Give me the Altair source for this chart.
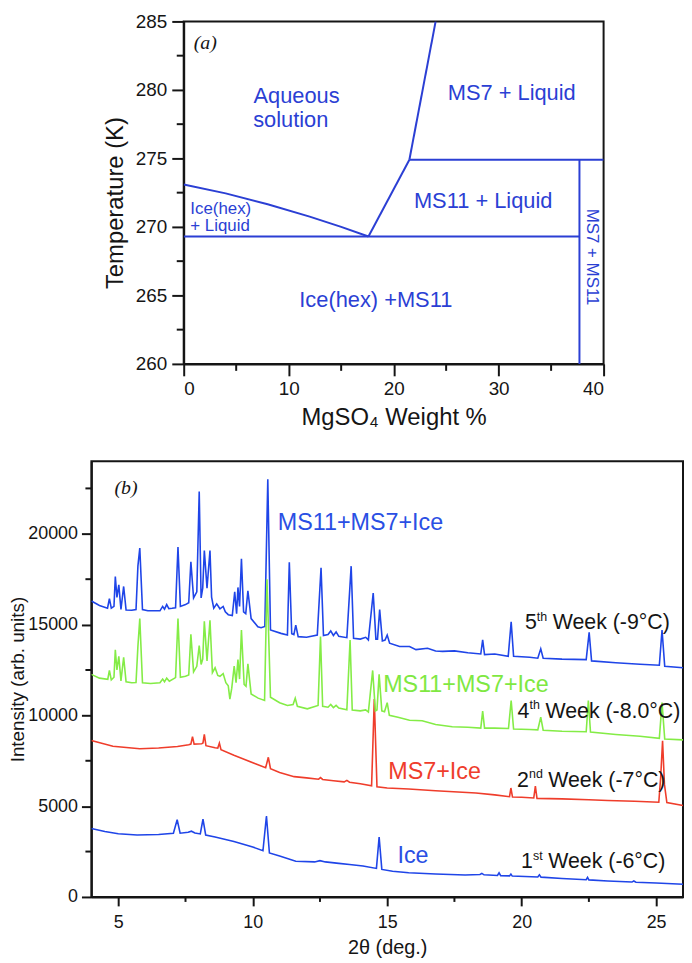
import altair as alt
import pandas as pd

# ---------------- Panel (a): phase diagram ----------------
ice_liq_x = [0, 4, 8, 12, 15, 17.6]
ice_liq_t = [273.1, 272.45, 271.65, 270.75, 270.0, 269.3]
eut_x = [0, 37.7]
eut_t = [269.3, 269.3]
ms11_liq_x = [17.6, 21.5]
ms11_liq_t = [269.3, 274.9]
ms7_liq_x = [21.5, 24.0]
ms7_liq_t = [274.9, 285.0]
peri_x = [21.5, 40.0]
peri_t = [274.9, 274.9]
vert_x = [37.7, 37.7]
vert_t = [260.0, 274.9]

a_big_text = ["Aqueous", "solution", "MS7 + Liquid", "MS11 + Liquid", "Ice(hex) +MS11"]
a_big_x = [10.75, 10.2, 31.25, 28.53, 18.3]
a_big_t = [279.52, 277.77, 279.75, 271.9, 264.66]
a_small_text = ["Ice(hex)", "+ Liquid"]
a_small_x = [0.63, 0.63]
a_small_t = [271.33, 270.04]
a_rot_text = ["MS7 + MS11"]
a_rot_x = [38.87]
a_rot_t = [267.8]

a_x_major = [0, 10, 20, 30, 40]
a_x_minor = [5, 15, 25, 35]
a_y_major = [260, 265, 270, 275, 280, 285]
a_y_minor = [262.5, 267.5, 272.5, 277.5, 282.5]

# ---------------- Panel (b): XRD patterns ----------------
w1_x = [4.0, 4.5, 5.0, 5.7, 6.5, 7.05, 7.19, 7.3, 7.6, 7.72, 7.85, 8.05, 8.15, 8.25, 8.6,
        9.3, 10.0, 10.38, 10.51, 10.62, 11.0, 11.6, 12.3, 12.5, 12.7, 13.2, 13.6, 14.1,
        14.6, 14.70, 14.8, 15.2, 15.8, 16.8, 17.9, 18.45, 18.52, 18.6, 19.1, 19.16, 19.22,
        19.55, 19.6, 19.65, 20.6, 20.66, 20.72, 21.5, 22.4, 22.45, 22.5, 23.2, 24.1, 24.17,
        24.25, 25.0, 26.0]
w1_y = [3775, 3600, 3480, 3413, 3440, 3505, 4250, 3510, 3560, 3620, 3520, 3470, 4280, 3413, 3300,
        3050, 2750, 2546, 4460, 2421, 2250, 1966, 1930, 2000, 1930, 1850, 1788, 1700,
        1571, 3300, 1517, 1420, 1336, 1260, 1210, 1240, 1300, 1220, 1180, 1330, 1170,
        1160, 1260, 1150, 1100, 1220, 1090, 1020, 950, 1080, 940, 880, 820, 880,
        810, 770, 704]

w2_x = [4.0, 4.8, 5.8, 6.5, 7.2, 7.62, 7.7, 7.76, 7.82, 8.1, 8.15, 8.2, 8.26, 8.6, 8.7, 8.76,
        8.82, 9.3, 9.7, 10.1, 10.48, 10.58, 10.66, 11.0, 11.54, 12.0, 12.45, 12.52, 12.6,
        13.0, 13.4, 13.5, 13.6, 14.0, 14.42, 14.52, 14.62, 15.0, 15.8, 16.8, 18.3, 19.0,
        19.55, 19.6, 19.66, 20.0, 20.45, 20.51, 20.57, 21.5, 22.5, 23.2, 24.2, 25.1, 25.17,
        25.24, 25.31, 25.4, 26.0]
w2_y = [8613, 8300, 8163, 8200, 8290, 8380, 8420, 8830, 8420, 8434, 8480, 8955, 8330, 8220, 8200, 8470,
        8110, 7800, 7568, 7330, 7113, 7692, 7060, 6850, 6625, 6560, 6484, 6570, 6470,
        6400, 6338, 6420, 6320, 6230, 6121, 10900, 6070, 6000, 5942, 5850, 5726, 5620,
        5520, 6000, 5500, 5490, 5450, 6100, 5430, 5400, 5350, 5309, 5270, 5217, 6600,
        8600, 6200, 5200, 5038]

w4_x = [4.0, 4.3, 4.61, 4.67, 4.74, 4.84, 4.89, 4.95, 5.02, 5.10, 5.20, 5.29, 5.5, 5.66, 5.73,
        5.80, 5.90, 6.2, 6.55, 6.65, 6.72, 6.8, 6.9, 7.13, 7.22, 7.31, 7.5, 7.62, 7.70, 7.80,
        7.92, 8.01, 8.08, 8.14, 8.20, 8.30, 8.41, 8.50, 8.60, 8.70, 8.78, 8.9, 9.0, 9.09,
        9.15, 9.22, 9.31, 9.38, 9.45, 9.51, 9.58, 9.68, 9.75, 9.82, 9.94, 10.2, 10.44, 10.53,
        10.66, 11.0, 11.29, 11.5, 11.58, 11.66, 12.03, 12.43, 12.52, 12.6, 12.8, 12.9, 13.0,
        13.1, 13.2, 13.5, 13.62, 13.7, 14.0, 14.2, 14.3, 14.46, 14.56, 14.62, 14.70, 14.80,
        14.9, 15.0, 15.08, 15.4, 15.83, 16.3, 16.8, 17.42, 18.0, 18.48, 18.55, 18.62, 19.0,
        19.51, 19.61, 19.7, 20.3, 20.6, 20.71, 20.8, 21.5, 22.4, 22.48, 22.56, 23.5, 24.4,
        25.12, 25.22, 25.32, 26.0]
w4_y = [12260, 12050, 11990, 12475, 11950, 12100, 13613, 12500, 13253, 11900, 13200, 11850, 11800, 11810, 13800,
        15330, 11800, 11760, 11800, 12000, 11850, 12050, 11880, 12080, 15330, 12100, 12150, 12226, 14463, 12400,
        12700, 13850, 12800, 13100, 15180, 13000, 15240, 12350, 12620, 12200, 12150, 12300, 11800, 11630,
        10900, 11500, 12710, 11800, 13070, 12000, 14700, 11700, 11600, 12840, 11180, 10950, 10820, 17500,
        10996, 10700, 10547, 10600, 10940, 10500, 10362, 10547, 14340, 10500, 10450, 10600, 10430,
        10550, 10400, 10310, 14155, 10300, 10250, 10300, 10184, 12475, 10250, 10300, 12260, 10250,
        10200, 10700, 10000, 9900, 9735, 9700, 9500, 9371, 9350, 9300, 10238, 9300, 9300,
        9280, 10818, 9250, 9220, 9200, 9900, 9180, 9130, 9100, 10818, 9080, 8950, 8850,
        8738, 10700, 8700, 8650]

w5_x = [4.0, 4.3, 4.6, 4.67, 4.74, 4.84, 4.89, 4.95, 5.02, 5.10, 5.20, 5.29, 5.5, 5.66, 5.73,
        5.80, 5.90, 6.1, 6.4, 6.55, 6.65, 6.72, 6.8, 6.88, 7.0, 7.13, 7.22, 7.31, 7.5, 7.62,
        7.70, 7.80, 7.92, 8.01, 8.08, 8.14, 8.20, 8.30, 8.41, 8.47, 8.55, 8.66, 8.78, 8.9,
        8.98, 9.09, 9.24, 9.33, 9.40, 9.45, 9.51, 9.58, 9.66, 9.74, 9.82, 9.94, 10.19, 10.31,
        10.45, 10.56, 10.66, 11.05, 11.29, 11.36, 11.45, 11.53, 11.60, 11.69, 12.0, 12.40,
        12.54, 12.63, 12.8, 12.9, 13.0, 13.1, 13.2, 13.5, 13.66, 13.75, 14.0, 14.2, 14.30,
        14.48, 14.58, 14.64, 14.72, 14.82, 14.92, 15.0, 15.09, 15.46, 15.83, 16.07, 16.5,
        16.8, 17.06, 17.5, 18.0, 18.48, 18.55, 18.62, 19.0, 19.5, 19.61, 19.7, 20.3, 20.6,
        20.71, 20.8, 21.5, 22.4, 22.51, 22.6, 23.5, 24.4, 25.12, 25.22, 25.32, 26.0]
w5_y = [16300, 16050, 15900, 16430, 15900, 16000, 17640, 16500, 17190, 15830, 17100, 15800, 15790, 15830, 18218,
        19210, 15830, 15760, 15760, 15760, 16000, 15850, 16100, 15880, 15900, 15930, 19270, 16000, 16100, 16200,
        18460, 16470, 16800, 22330, 16470, 17000, 19080, 17000, 19080, 16506, 15900, 16142, 15870, 16000,
        15700, 15547, 15500, 16807, 15600, 17047, 16000, 18618, 15700, 15600, 16863, 15330, 14880, 14826,
        14900, 23006, 14700, 14517, 14426, 18434, 14500, 14450, 14968, 14336, 14300, 14426,
        18130, 14400, 14450, 14650, 14400, 14600, 14350, 14280, 18218, 14250, 14200, 14300, 14155,
        16738, 14200, 14200, 15834, 14100, 14150, 14426, 13976, 13795, 13795, 13620, 13700,
        13550, 13524, 13550, 13450, 13380, 14155, 13350, 13380, 13253, 15150, 13250, 13200, 13150,
        13668, 13150, 13100, 13072, 14570, 13000, 12900, 12820, 12763, 14696, 12700, 12620]

b_lab_text = ["MS11+MS7+Ice", "MS11+MS7+Ice", "MS7+Ice", "Ice"]
b_lab_x = [10.93, 14.85, 15.04, 15.38]
b_lab_y = [20585, 11647, 6880, 2237]
b_lab_col = ["#2a4fe4", "#7fe842", "#ef3d2c", "#2a4fe4"]

week_num = ["5", "4", "2", "1"]
week_sup = ["th", "th", "nd", "st"]
week_rest = ["Week (-9°C)", "Week (-8.0°C)", "Week (-7°C)", "Week (-6°C)"]
week_x = [20.12, 19.85, 19.83, 19.98]
week_y = [15059, 10184, 6392, 1896]

b_x_major = [5, 10, 15, 20, 25]
b_x_minor = [7.5, 12.5, 17.5, 22.5]
b_y_major = [0, 5000, 10000, 15000, 20000]
b_y_minor = [2500, 7500, 12500, 17500, 22500]

# ---------------- styling ----------------
FONT = "Liberation Sans"
INK = "#151515"
PH_BLUE = "#2b3fd4"
C_BLUE = "#1f45e8"
C_GREEN = "#84ec46"
C_RED = "#ef3d2b"

WA, HA = 423, 345
WB, HB = 596, 439
LEFT_GAP = 93
ROW_STEP = 443  # distance from top of panel (a) plot to top of panel (b) plot


def axis_style(**kw):
    base = dict(grid=False, domainColor=INK, domainWidth=2, tickColor=INK, tickWidth=2,
                labelColor=INK, titleColor=INK, labelFont=FONT, titleFont=FONT,
                titleFontWeight="normal", titleBaseline="middle")
    base.update(kw)
    return alt.Axis(**base)


# ---- panel (a) encodings
x_axis_a = axis_style(values=a_x_major, title="MgSO₄ Weight %", titleFontSize=24, labelFontSize=19,
                      tickSize=12, labelPadding=4, titleX=WA / 2, titleY=54, format="d")
y_axis_a = axis_style(values=a_y_major, title="Temperature (K)", titleFontSize=24, labelFontSize=19,
                      tickSize=12, labelPadding=5, titleX=-69, titleY=HA / 2 + 10, format="d")
XA = alt.X("x:Q", scale=alt.Scale(domain=[0, 40], nice=False, zero=False), axis=x_axis_a)
YA = alt.Y("y:Q", scale=alt.Scale(domain=[260, 285], nice=False, zero=False), axis=y_axis_a)

seg_rows = []
for name, xs, ts in [("ice", ice_liq_x, ice_liq_t), ("eut", eut_x, eut_t),
                     ("ms11", ms11_liq_x, ms11_liq_t), ("ms7", ms7_liq_x, ms7_liq_t),
                     ("peri", peri_x, peri_t), ("vert", vert_x, vert_t)]:
    for i, (xv, tv) in enumerate(zip(xs, ts)):
        seg_rows.append({"seg": name, "o": i, "x": xv, "y": tv})
seg_df = pd.DataFrame(seg_rows)

lines_a = alt.Chart(seg_df).mark_line(color=PH_BLUE, strokeWidth=2, clip=True).encode(
    x=XA, y=YA, detail="seg:N", order="o:Q")
big_a = alt.Chart(pd.DataFrame({"x": a_big_x, "y": a_big_t, "t": a_big_text})).mark_text(
    font=FONT, fontSize=22, color=PH_BLUE, align="center", baseline="middle").encode(
    x=XA, y=YA, text="t:N")
small_a = alt.Chart(pd.DataFrame({"x": a_small_x, "y": a_small_t, "t": a_small_text})).mark_text(
    font=FONT, fontSize=17, color=PH_BLUE, align="left", baseline="middle").encode(
    x=XA, y=YA, text="t:N")
rot_a = alt.Chart(pd.DataFrame({"x": a_rot_x, "y": a_rot_t, "t": a_rot_text})).mark_text(
    font=FONT, fontSize=17, color=PH_BLUE, align="center", baseline="middle", angle=90).encode(
    x=XA, y=YA, text="t:N")
tag_a = alt.Chart(pd.DataFrame({"x": [0.95], "y": [283.4], "t": ["(a)"]})).mark_text(
    font="Liberation Serif", fontStyle="italic", fontSize=20, color=INK, align="left",
    baseline="middle").encode(x=XA, y=YA, text="t:N")
minor_ya = alt.Chart(pd.DataFrame({"y": a_y_minor})).mark_rule(color=INK, strokeWidth=2).encode(
    y=YA, x=alt.value(-7), x2=alt.value(0))
minor_xa = alt.Chart(pd.DataFrame({"x": a_x_minor})).mark_rule(color=INK, strokeWidth=2).encode(
    x=XA, y=alt.value(HA), y2=alt.value(HA + 7))

panel_a = alt.layer(lines_a, big_a, small_a, rot_a, tag_a, minor_ya, minor_xa).properties(
    width=WA, height=HA, view=alt.ViewBackground(stroke=INK, strokeWidth=2))

# ---- panel (b) encodings
x_axis_b = axis_style(values=b_x_major, title="2θ (deg.)", titleFontSize=20, labelFontSize=18,
                      tickSize=9, labelPadding=8, titleX=WB / 2, titleY=51, format="d")
y_axis_b = axis_style(values=b_y_major, title="Intensity (arb. units)", titleFontSize=19,
                      labelFontSize=18, tickSize=10, labelPadding=4, titleX=-74,
                      titleY=HB / 2, format="d")
XB = alt.X("x:Q", scale=alt.Scale(domain=[4, 26], nice=False, zero=False), axis=x_axis_b)
YB = alt.Y("y:Q", scale=alt.Scale(domain=[0, 24000], nice=False, zero=False), axis=y_axis_b)


def curve(xs, ys, color):
    return alt.Chart(pd.DataFrame({"x": xs, "y": ys})).mark_line(
        color=color, strokeWidth=1.6, clip=True).encode(x=XB, y=YB)


c_red = curve(w2_x, w2_y, C_RED)
c_b1 = curve(w1_x, w1_y, C_BLUE)
c_b5 = curve(w5_x, w5_y, C_BLUE)
c_green = curve(w4_x, w4_y, C_GREEN)

labs_b = []
for t, xv, yv, col in zip(b_lab_text, b_lab_x, b_lab_y, b_lab_col):
    labs_b.append(alt.Chart(pd.DataFrame({"x": [xv], "y": [yv], "t": [t]})).mark_text(
        font=FONT, fontSize=23.5, color=col, align="left", baseline="middle").encode(
        x=XB, y=YB, text="t:N"))

sup_w = {"th": 10.2, "nd": 13.6, "st": 9.5}
for n, s, r, xv, yv in zip(week_num, week_sup, week_rest, week_x, week_y):
    d = pd.DataFrame({"x": [xv], "y": [yv], "n": [n], "s": [s], "r": [r]})
    labs_b.append(alt.Chart(d).mark_text(font=FONT, fontSize=21.5, color=INK, align="left",
                                         baseline="middle").encode(x=XB, y=YB, text="n:N"))
    labs_b.append(alt.Chart(d).mark_text(font=FONT, fontSize=12.5, color=INK, align="left",
                                         baseline="middle", dx=12, dy=-7).encode(
        x=XB, y=YB, text="s:N"))
    labs_b.append(alt.Chart(d).mark_text(font=FONT, fontSize=21.5, color=INK, align="left",
                                         baseline="middle", dx=12 + sup_w[s] + 5.8).encode(
        x=XB, y=YB, text="r:N"))

tag_b = alt.Chart(pd.DataFrame({"x": [4.86], "y": [22535], "t": ["(b)"]})).mark_text(
    font="Liberation Serif", fontStyle="italic", fontSize=20, color=INK, align="left",
    baseline="middle").encode(x=XB, y=YB, text="t:N")
minor_yb = alt.Chart(pd.DataFrame({"y": b_y_minor})).mark_rule(color=INK, strokeWidth=2).encode(
    y=YB, x=alt.value(-6), x2=alt.value(0))
minor_xb = alt.Chart(pd.DataFrame({"x": b_x_minor})).mark_rule(color=INK, strokeWidth=2).encode(
    x=XB, y=alt.value(HB), y2=alt.value(HB + 5))

panel_b = alt.layer(c_red, c_b1, c_b5, c_green, *labs_b, tag_b, minor_yb, minor_xb).properties(
    width=WB, height=HB, view=alt.ViewBackground(stroke=INK, strokeWidth=2))


def spacer(w):
    return alt.Chart(pd.DataFrame({"x": [0]})).mark_rule(opacity=0).encode(
        x=alt.value(0), y=alt.value(0), y2=alt.value(1)).properties(width=w, height=1)


top = alt.hconcat(spacer(LEFT_GAP), panel_a, spacer(WB - LEFT_GAP - WA), spacing=0,
                  bounds="flush")
chart = alt.vconcat(top, panel_b, spacing=ROW_STEP, bounds="flush").properties(
    padding=0).configure(font=FONT).configure_view(stroke=None)

chart.save("out.html", embed_options={"renderer": "svg", "actions": False})
